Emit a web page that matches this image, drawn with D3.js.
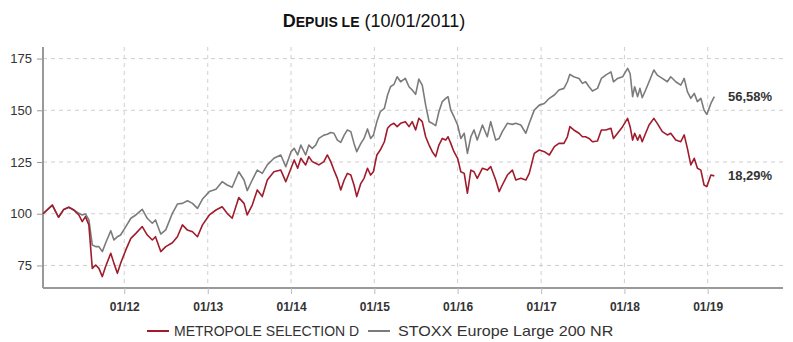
<!DOCTYPE html>
<html>
<head>
<meta charset="utf-8">
<script src="https://cdn.jsdelivr.net/npm/d3@7/dist/d3.min.js"></script>
<style>
  html, body { margin: 0; padding: 0; background: #fff; }
  svg { display: block; font-family: "Liberation Sans", Arial, sans-serif; }
</style>
</head>
<body>
<svg id="chart" width="793" height="342"></svg>
<script>
// Performance base 100 since 10/01/2011
const dates = [
  "2011-01-10","2011-02-20","2011-03-19","2011-04-11","2011-05-03","2011-05-25","2011-06-16","2011-07-01",
  "2011-07-15","2011-07-30","2011-08-14","2011-08-29","2011-09-12","2011-09-27","2011-10-11","2011-11-03",
  "2011-11-17","2011-12-02","2011-12-16","2012-01-08","2012-01-30","2012-02-21","2012-03-20","2012-04-11",
  "2012-05-03","2012-05-17","2012-06-09","2012-07-01","2012-07-30","2012-08-21","2012-09-12","2012-10-04",
  "2012-10-26","2012-11-17","2012-12-09","2013-01-08","2013-02-06","2013-03-05","2013-03-27","2013-04-18",
  "2013-05-17","2013-06-09","2013-06-23","2013-07-15","2013-08-06","2013-08-28","2013-09-19","2013-10-18",
  "2013-11-17","2013-12-09","2014-01-01","2014-01-15","2014-01-30","2014-02-13","2014-03-06","2014-03-20",
  "2014-04-04","2014-04-19","2014-05-03","2014-05-25","2014-06-09","2014-06-24","2014-07-08","2014-07-23",
  "2014-08-07","2014-08-22","2014-09-05","2014-09-20","2014-10-04","2014-10-16","2014-11-03","2014-11-17",
  "2014-12-02","2014-12-16","2014-12-28","2015-01-12","2015-01-27","2015-02-14","2015-02-28","2015-03-13",
  "2015-03-28","2015-04-11","2015-04-26","2015-05-17","2015-06-02","2015-06-16","2015-07-01","2015-07-15",
  "2015-07-30","2015-08-14","2015-08-29","2015-09-12","2015-09-27","2015-10-11","2015-10-26","2015-11-10",
  "2015-11-20","2015-12-02","2015-12-16","2016-01-01","2016-01-15","2016-01-30","2016-02-13","2016-02-28",
  "2016-03-13","2016-03-27","2016-04-19","2016-05-10","2016-05-25","2016-06-16","2016-07-01","2016-07-15",
  "2016-08-06","2016-08-28","2016-09-12","2016-10-04","2016-10-26","2016-11-10","2016-12-02","2016-12-24",
  "2017-01-15","2017-02-06","2017-02-28","2017-03-20","2017-04-11","2017-04-26","2017-05-07","2017-05-24",
  "2017-06-16","2017-07-01","2017-07-15","2017-07-30","2017-08-14","2017-09-05","2017-09-22","2017-10-11",
  "2017-11-03","2017-11-14","2017-12-02","2017-12-24","2018-01-15","2018-01-26","2018-02-06","2018-02-15",
  "2018-02-28","2018-03-10","2018-03-20","2018-04-04","2018-04-19","2018-05-10","2018-05-25","2018-06-16",
  "2018-07-08","2018-07-23","2018-08-14","2018-09-05","2018-09-20","2018-10-04","2018-10-19","2018-11-03",
  "2018-11-17","2018-12-02","2018-12-16","2018-12-28","2019-01-15","2019-01-30"
];

const metropole = [
  100, 104.2, 98.3, 102.1, 103.1, 101.8, 99.4, 96.2,
  98.6, 94.6, 73.6, 75.2, 73.6, 69.6, 74.4, 80.9,
  76.0, 71.2, 76.0, 82.5, 88.1, 90.5, 93.8, 89.7,
  87.3, 88.9, 81.7, 84.1, 86.0, 88.9, 94.6, 92.1,
  91.3, 88.9, 94.6, 99.4, 101.8, 103.4, 100.2, 97.8,
  107.8, 105.0, 99.4, 104.2, 111.5, 108.3, 116.3, 120.3,
  121.1, 115.5, 122.0, 126.0, 122.0, 126.8, 123.6, 127.6,
  125.2, 124.4, 123.6, 125.2, 128.4, 125.2, 121.1, 117.1,
  111.5, 116.3, 119.5, 118.7, 113.9, 108.3, 114.7, 117.1,
  122.0, 118.7, 120.3, 128.4, 130.8, 134.8, 141.3, 142.9,
  143.7, 142.1, 143.7, 144.5, 142.1, 144.5, 140.5, 146.1,
  144.5, 137.2, 133.2, 130.0, 127.6, 133.2, 136.4, 135.6,
  137.2, 134.0, 130.0, 126.8, 120.3, 119.5, 109.9, 121.1,
  120.3, 117.1, 122.0, 121.1, 122.8, 116.3, 110.7, 113.9,
  118.7, 121.1, 116.3, 117.1, 116.3, 119.5, 129.2, 130.8,
  130.0, 128.4, 132.4, 134.0, 134.0, 137.2, 142.1, 140.5,
  138.9, 137.2, 137.2, 136.4, 134.8, 135.2, 140.5, 140.5,
  141.3, 136.4, 138.9, 142.1, 146.1, 142.1, 135.6, 138.9,
  135.6, 138.1, 134.8, 138.9, 142.9, 146.1, 143.7, 139.7,
  138.1, 138.9, 135.6, 134.8, 138.1, 131.6, 123.6, 126.8,
  122.0, 121.1, 113.9, 113.1, 118.7, 118.29
];

const stoxx = [
  100, 104.2, 98.3, 102.1, 103.1, 101.8, 100.2, 99.4,
  99.9, 97.0, 84.9, 84.1, 84.1, 81.7, 85.7, 91.8,
  87.3, 88.9, 89.7, 93.8, 97.8, 99.4, 102.1, 97.8,
  95.4, 97.0, 90.2, 92.2, 100.2, 104.7, 105.0, 106.3,
  105.0, 102.6, 107.1, 110.7, 111.8, 115.5, 113.9, 112.8,
  120.3, 116.3, 111.2, 116.3, 121.1, 119.5, 123.6, 126.8,
  128.4, 122.7, 130.0, 131.6, 128.4, 133.2, 128.4, 133.2,
  131.6, 133.2, 136.4, 138.0, 138.4, 139.3, 138.9, 135.6,
  134.5, 138.0, 140.5, 139.7, 134.0, 130.0, 134.0, 136.4,
  141.0, 136.4, 138.0, 144.5, 149.3, 150.9, 157.4, 161.4,
  162.5, 166.2, 163.8, 165.4, 161.4, 159.8, 157.7, 165.1,
  162.2, 152.5, 144.5, 143.7, 142.6, 149.3, 154.2, 155.8,
  156.6, 150.1, 146.9, 142.9, 136.4, 138.9, 129.2, 137.2,
  140.5, 135.6, 142.9, 137.2, 144.5, 135.6, 136.4, 139.7,
  143.7, 143.2, 143.7, 142.9, 138.9, 143.7, 150.1, 152.5,
  153.3, 155.8, 157.4, 159.8, 160.6, 163.8, 167.4, 166.2,
  165.4, 163.0, 163.8, 161.4, 159.3, 160.6, 165.4, 167.0,
  168.6, 163.8, 165.4, 166.2, 170.3, 167.8, 156.6, 161.4,
  156.6, 160.6, 156.1, 159.8, 163.8, 169.5, 167.0, 165.4,
  163.8, 166.2, 163.8, 162.2, 165.4, 159.0, 155.8, 158.2,
  154.2, 155.8, 150.1, 148.0, 153.3, 156.58
];

const seriesNames = ["METROPOLE SELECTION D", "STOXX Europe Large 200 NR"];
const seriesColors = ["#a01c2c", "#7b7b7b"];
const yTickValues = [75, 100, 125, 150, 175];
const xTickYears = [2012, 2013, 2014, 2015, 2016, 2017, 2018, 2019];
const titleLead = "DEPUIS LE";
const titleDate = "(10/01/2011)";

const parse = d3.timeParse("%Y-%m-%d");
const points = dates.map((d, i) => ({ date: parse(d), fund: metropole[i], bench: stoxx[i] }));

const svg = d3.select("#chart");
const plotLeft = 43, plotRight = 783, plotTop = 47, plotBottom = 288;

const x = d3.scaleTime()
  .domain([parse("2011-01-10"), parse("2019-11-27")])
  .range([plotLeft, plotRight]);
const y = d3.scaleLinear()
  .domain([64.1, 180.6])
  .range([plotBottom, plotTop]);

// dashed grid
const grid = svg.append("g");
grid.selectAll("line.h").data(yTickValues).join("line")
  .attr("x1", plotLeft).attr("x2", plotRight)
  .attr("y1", d => y(d)).attr("y2", d => y(d))
  .attr("stroke", "#cfcfcf").attr("stroke-width", 1).attr("stroke-dasharray", "4,4");
const yearDates = xTickYears.map(yr => new Date(yr, 0, 1));
grid.selectAll("line.v").data(yearDates).join("line")
  .attr("x1", d => x(d)).attr("x2", d => x(d))
  .attr("y1", plotTop).attr("y2", plotBottom)
  .attr("stroke", "#cfcfcf").attr("stroke-width", 1).attr("stroke-dasharray", "4,4");

// axes
const yAxis = svg.append("g")
  .attr("transform", `translate(${plotLeft},0)`)
  .call(d3.axisLeft(y).tickValues(yTickValues).tickSize(6).tickPadding(5));
yAxis.select(".domain").attr("stroke", "#999").attr("stroke-width", 2)
  .attr("d", `M0,${plotTop}V${plotBottom}`);
yAxis.selectAll(".tick line").attr("stroke", "#999");
yAxis.selectAll(".tick text").attr("fill", "#333").style("font-size", "13px");

const xAxis = svg.append("g")
  .attr("transform", `translate(0,${plotBottom})`)
  .call(d3.axisBottom(x).tickValues(yearDates).tickFormat(d3.timeFormat("%m/%y")).tickSize(6).tickPadding(8));
xAxis.select(".domain").attr("stroke", "#999").attr("stroke-width", 2)
  .attr("d", `M${plotLeft},0H${plotRight}`);
xAxis.selectAll(".tick line").attr("stroke", "#bbb");
xAxis.selectAll(".tick text").attr("fill", "#333").style("font-size", "12px").style("font-weight", "bold");

// lines
const lineBench = d3.line().x(d => x(d.date)).y(d => y(d.bench));
const lineFund = d3.line().x(d => x(d.date)).y(d => y(d.fund));
svg.append("path").datum(points).attr("d", lineBench)
  .attr("fill", "none").attr("stroke", seriesColors[1]).attr("stroke-width", 1.6).attr("stroke-linejoin", "round");
svg.append("path").datum(points).attr("d", lineFund)
  .attr("fill", "none").attr("stroke", seriesColors[0]).attr("stroke-width", 1.6).attr("stroke-linejoin", "round");

// end-of-period performance labels
const last = points[points.length - 1];
const fmtPct = v => d3.format(".2f")(v - 100).replace(".", ",") + "%";
svg.append("text").attr("x", 728).attr("y", y(last.bench)).attr("dy", "0.35em")
  .attr("fill", "#333").style("font-size", "13px").style("font-weight", "bold").text(fmtPct(last.bench));
svg.append("text").attr("x", 728).attr("y", y(last.fund)).attr("dy", "0.35em")
  .attr("fill", "#333").style("font-size", "13px").style("font-weight", "bold").text(fmtPct(last.fund));

// title
const title = svg.append("text").attr("x", 374).attr("y", 27).attr("text-anchor", "middle").attr("fill", "#111");
title.append("tspan").style("font-weight", "bold").style("font-size", "18px").text(titleLead[0]);
title.append("tspan").style("font-weight", "bold").style("font-size", "14px").text(titleLead.slice(1));
title.append("tspan").style("font-size", "18px").text(" " + titleDate);

// legend
const legend = svg.append("g").attr("transform", "translate(0,331)");
const legendItems = [{ x0: 147, tx: 174, sx: 1 }, { x0: 368, tx: 398, sx: 1.15 }];
legendItems.forEach((it, i) => {
  legend.append("line").attr("x1", it.x0).attr("x2", it.x0 + 22).attr("y1", 0).attr("y2", 0)
    .attr("stroke", seriesColors[i]).attr("stroke-width", 2);
  legend.append("text").attr("transform", `translate(${it.tx},0) scale(${it.sx},1)`).attr("dy", "0.35em")
    .attr("fill", "#333").style("font-size", "14px").text(seriesNames[i]);
});
</script>
</body>
</html>
